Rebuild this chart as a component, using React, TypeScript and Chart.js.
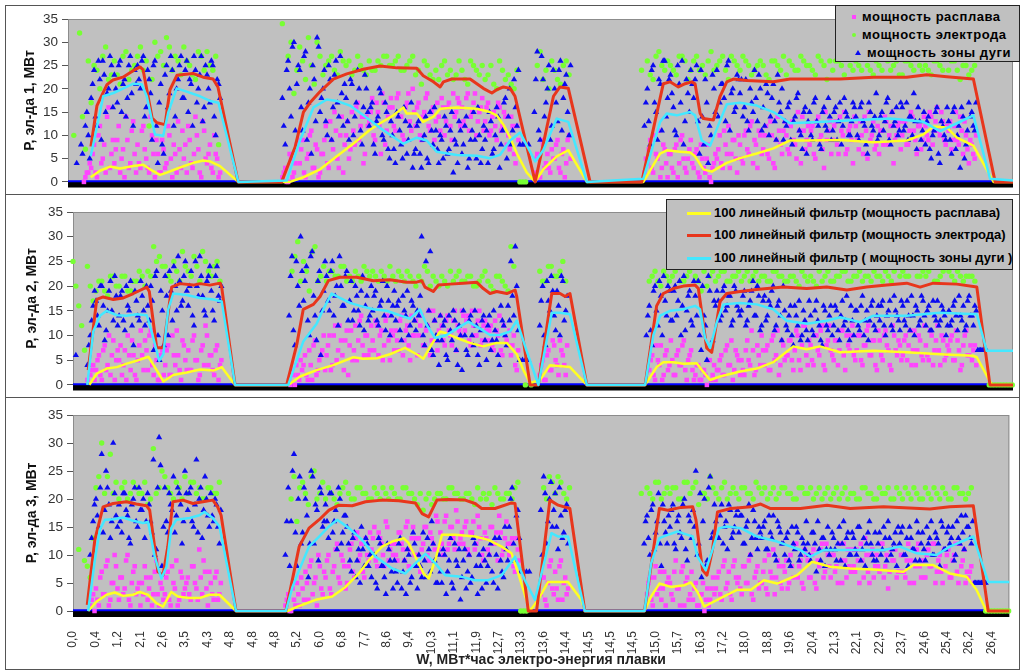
import { useEffect, useRef } from 'react';
import { Chart, registerables } from 'chart.js';

Chart.register(...registerables);

const FONT = '"Liberation Sans", Arial, Helvetica, sans-serif';
Chart.defaults.font.family = FONT;

const _ = null;
type Pair = [number, number];
type Vals = (number | null)[];

// x runs in sample units; one tick label every TICK_STEP
const X_MAX = 40.78;
const TICK_STEP = 0.9757;
const STEP_FINE = 0.125; // pink and blue samples
const STEP_COARSE = 0.25; // green samples

const xLabels = [
  '0,0', '0,4', '1,2', '2,1', '2,6', '3,5', '4,3', '4,8', '4,8', '4,8', '5,2', '6,0', '6,8', '7,7',
  '8,6', '9,4', '10,3', '11,1', '11,9', '12,7', '13,3', '13,6', '14,4', '14,5', '14,5', '14,5', '15,0',
  '15,7', '16,3', '17,2', '18,0', '18,8', '19,6', '20,4', '21,3', '22,1', '22,9', '23,7', '24,6',
  '25,4', '26,2', '26,4',
];

// ---------- electrode 1 ----------
const electrode1: Pair[] = [
  [0.99, 7.6], [1.25, 16.4], [1.68, 20.9], [1.94, 21.9], [2.37, 22.5], [2.81, 23.9], [3.11, 24.7], [3.24, 24.1],
  [3.63, 13.7], [3.84, 12.7], [4.19, 12.3], [4.4, 19.8], [4.7, 22.9], [5.39, 23.3], [5.83, 22.5], [6.26, 22.1],
  [6.47, 20.4], [7.34, 0], [9.22, 0], [9.8, 7.5], [10.16, 15.0], [10.44, 17.0], [10.88, 19.4], [11.45, 22.1],
  [12.03, 23.2], [12.74, 24.2], [13.47, 24.9], [14.19, 24.5], [15.05, 24.4], [15.33, 22.8], [15.77, 21.5],
  [16.06, 20.4], [16.2, 21.5], [16.56, 22.1], [17.35, 22.1], [17.92, 20.1], [18.29, 19.1], [18.5, 19.8],
  [18.79, 20.4], [19.08, 20.1], [19.29, 18.4], [20.16, 0], [20.95, 18.4], [21.23, 20.4], [21.59, 20.1],
  [22.53, 0], [24.76, 0], [25.69, 21.1], [25.98, 21.5], [26.34, 20.4], [26.63, 21.1], [26.92, 21.5],
  [27.06, 21.1], [27.28, 14.7], [27.42, 13.6], [27.85, 13.3], [28.14, 18.4], [28.43, 21.5], [28.71, 22.1],
  [29.29, 21.8], [30.44, 21.5], [31.16, 22.1], [33.32, 22.1], [34.76, 22.5], [36.2, 22.5], [37.06, 23.0],
  [37.92, 22.6], [39.07, 22.1], [40.01, 0], [40.78, 0],
];
const arc1: Pair[] = [
  [0.98, 5.5], [1.24, 11.6], [1.52, 18.4], [1.96, 19.1], [2.39, 20.1], [2.82, 21.1], [3.18, 21.0], [3.4, 18.4],
  [3.75, 10.2], [4.11, 9.9], [4.33, 15.0], [4.69, 20.1], [5.12, 19.4], [5.7, 18.4], [6.13, 17.4], [6.49, 17.0],
  [7.35, 0], [9.44, 0.3], [10.01, 8.9], [10.59, 16.0], [11.17, 17.7], [11.6, 17.4], [12.17, 16.4], [12.75, 14.3],
  [13.47, 11.6], [14.47, 8.2], [15.05, 9.5], [15.48, 8.9], [15.91, 6.5], [16.78, 5.8], [17.64, 5.6], [18.21, 5.1],
  [18.64, 5.8], [19.08, 8.9], [19.51, 10.6], [20.16, 4.4], [20.51, 6.8], [21.09, 13.6], [21.59, 12.9], [22.39, 0],
  [24.83, 0.7], [25.55, 12.9], [25.84, 14.7], [26.27, 14.3], [26.85, 15.0], [27.06, 14.3], [27.35, 8.9],
  [27.71, 7.8], [28.07, 12.3], [28.43, 16.7], [29.0, 17.0], [29.72, 16.4], [30.44, 15.0], [31.16, 12.6],
  [32.6, 12.9], [34.04, 13.3], [35.48, 13.6], [36.91, 12.9], [37.63, 10.9], [38.36, 12.6], [39.07, 14.3],
  [39.79, 0.7], [40.78, 0.3],
];
const melt1: Pair[] = [
  [0.98, 1.0], [1.38, 2.4], [1.81, 3.3], [2.24, 2.9], [2.82, 3.4], [3.25, 3.7], [3.54, 2.7], [3.97, 1.5],
  [4.26, 2.0], [4.83, 3.1], [5.41, 4.1], [5.84, 4.6], [6.13, 4.4], [6.56, 3.4], [7.35, 0], [9.58, 0],
  [10.16, 1.0], [10.88, 2.7], [11.6, 5.5], [12.31, 8.2], [13.03, 11.2], [13.47, 12.6], [14.04, 14.3],
  [14.47, 16.0], [14.61, 14.7], [15.05, 14.7], [15.33, 12.9], [15.77, 14.0], [16.06, 15.7], [16.78, 16.0],
  [17.64, 15.7], [18.21, 15.0], [18.5, 14.3], [18.79, 12.3], [19.08, 9.5], [19.37, 6.1], [19.8, 2.0],
  [20.16, 0], [20.51, 2.7], [21.09, 5.5], [21.59, 6.8], [22.39, 0], [24.83, 0], [25.55, 6.1], [25.84, 6.8],
  [26.41, 6.5], [26.85, 6.3], [27.06, 5.5], [27.42, 2.7], [27.78, 2.2], [28.43, 4.1], [29.0, 5.1],
  [29.72, 6.1], [30.44, 7.2], [31.16, 8.9], [31.88, 8.9], [33.32, 9.0], [34.76, 8.5], [36.2, 8.9],
  [36.91, 10.2], [37.35, 11.9], [37.92, 11.7], [38.36, 9.5], [39.07, 7.8], [39.94, 0], [40.78, 0],
];
const arcPts1: Vals = [
  _, _, _, 4, _, 6, 12, 10, 18, 24, 12, 22, 26, 15, 20, 25, 23, 17, 26, 21, 14, 25, 19, 24,
  25, 20, 27, 16, 22, 9, 26, 4, 21, 6, 25, 19, 24, 14, 22, 27, 18, 26, 22, 12, 24, 20, 27, 16,
  23, 17, 25, 10, 21, _, _, _, _, _, _, _, _, _, _, _, _, _, _, _, _, _, _, _,
  _, _, 18, 8, 26, 14, 30, 21, 24, 11, 28, 17, 6, 22, 31, 15, 20, 13, 25, 9, 23, 17, 27, 12,
  18, 9, 21, 14, 24, 11, 16, 20, 12, 17, 6, 14, 19, 9, 15, 5, 10, 4, 14, 8, 16, 6, 12, 3,
  7, 13, 3, 10, 5, 15, 8, 11, 4, 9, 14, 6, 11, 2, 8, 13, 6, 12, 3, 9, 15, 5, 10, 7,
  9, 4, 13, 7, 16, 3, 11, 18, 14, 8, 22, 12, 8, 8, 8, 8, _, 15, 28, 9, 22, 17, 25, 12,
  20, 13, 26, 18, 23, 10, _, _, _, _, _, _, _, _, _, _, _, _, _, _, _, _, _, _,
  _, _, _, _, _, _, _, 12, 20, 8, 25, 15, 22, 11, 26, 18, 23, 16, 10, 21, 26, 13, 19, 24,
  18, 25, 6, 14, 22, 4, 10, 20, 24, 17, 21, 13, 26, 19, 15, 23, 19, 14, 22, 11, 17, 24, 13, 20,
  16, 21, 10, 18, 13, 23, 15, 9, 12, 17, 8, 14, 19, 10, 15, 6, 15, 9, 18, 12, 7, 16, 11, 14,
  11, 16, 13, 8, 18, 14, 10, 17, 14, 9, 17, 12, 6, 15, 11, 19, 10, 15, 13, 18, 8, 12, 16, 11,
  16, 12, 9, 14, 19, 7, 13, 11, 8, 14, 5, 11, 16, 4, 12, 9, 13, 6, 16, 10, 3, 14, 8, 17,
  15, 11, _, _, _, _, _, _, _, _, _, _, _, _, _, _,
];
const arcPts1b: Vals = [
  _, _, _, _, 8, _, 15, 5,
  21, 14, 26, 9, 23, 19, 27, 16,
  20, 25, 15, 22, 18, 27, 12, 21,
  22, 26, 14, 24, 19, 25, 12, 17,
  8, 23, 16, 27, 12, 20, 25, 18,
  24, 15, 21, 27, 17, 23, 13, 25,
  20, 26, 14, 22, 18, _, _, _,
  _, _, _, _, _, _, _, _,
  _, _, _, _, _, _, _, _,
  _, _, 12, 24, 20, 29, 11, 25,
  16, 27, 9, 20, 25, 13, 29, 18,
  24, 10, 22, 16, 26, 14, 19, 21,
  13, 22, 10, 17, 20, 8, 23, 15,
  16, 8, 13, 20, 10, 17, 7, 13,
  7, 15, 11, 5, 13, 9, 17, 6,
  12, 6, 9, 14, 4, 11, 16, 7,
  10, 5, 12, 7, 15, 9, 4, 11,
  8, 14, 5, 11, 9, 16, 4, 12,
  11, 15, 6, 10, 14, 8, 17, 5,
  20, 11, 16, 24, _, _, _, _,
  _, 22, 11, 27, 14, 20, 9, 24,
  17, 24, 11, 21, 15, 25, _, _,
  _, _, _, _, _, _, _, _,
  _, _, _, _, _, _, _, _,
  _, _, _, _, _, _, _, 17,
  13, 24, 17, 9, 21, 26, 14, 22,
  19, 11, 25, 17, 8, 22, 15, 21,
  22, 13, 24, 8, 17, 12, 23, 15,
  14, 21, 18, 25, 11, 20, 16, 22,
  22, 16, 13, 20, 15, 18, 23, 11,
  12, 19, 14, 21, 9, 17, 20, 13,
  16, 9, 13, 18, 11, 7, 16, 13,
  10, 17, 13, 8, 15, 12, 18, 9,
  15, 9, 17, 12, 15, 10, 13, 16,
  10, 16, 13, 8, 17, 12, 14, 9,
  14, 11, 17, 9, 15, 13, 10, 17,
  11, 17, 14, 10, 13, 16, 9, 15,
  13, 7, 10, 15, 6, 13, 10, 16,
  9, 15, 7, 12, 16, 5, 11, 14,
  12, 17, _, _, _, _, _, _,
];
const meltPts1: Vals = [
  _, _, _, _, _, _, 1, 2, 3, 8, 1, 12, 5, 2, 16, 6, 4, 9, 2, 7, 14, 3, 11, 6,
  8, 3, 12, 5, 2, 10, 1, 6, 2, 7, 4, 10, 1, 6, 13, 3, 5, 2, 9, 3, 14, 7, 1, 11,
  4, 8, 2, 6, 1, _, _, _, _, _, _, _, _, _, _, _, _, _, _, _, _, _, _, _,
  _, _, 1, 3, 0, 5, 2, 8, 4, 9, 1, 6, 11, 3, 7, 2, 6, 12, 3, 9, 15, 5, 10, 2,
  10, 5, 15, 8, 17, 12, 4, 14, 13, 18, 9, 15, 6, 17, 11, 16, 16, 11, 19, 14, 9, 17, 13, 20,
  12, 17, 9, 15, 19, 11, 16, 13, 14, 18, 10, 16, 12, 19, 15, 17, 16, 12, 19, 14, 17, 10, 15, 18,
  13, 17, 11, 15, 9, 16, 12, 14, 10, 14, 6, 12, _, _, _, _, _, 2, 6, 1, 8, 4, 3, 7,
  5, 9, 2, 7, 4, 10, _, _, _, _, _, _, _, _, _, _, _, _, _, _, _, _, _, _,
  _, _, _, _, _, _, _, 2, 4, 9, 2, 6, 11, 3, 7, 1, 6, 2, 8, 4, 10, 3, 5, 9,
  3, 7, 1, 5, 2, 8, 0, 4, 5, 10, 3, 8, 12, 6, 9, 2, 8, 4, 11, 6, 13, 9, 3, 10,
  7, 12, 5, 10, 3, 14, 8, 11, 10, 6, 13, 8, 15, 4, 11, 9, 8, 12, 5, 14, 10, 3, 9, 13,
  9, 13, 6, 11, 15, 7, 12, 4, 12, 7, 10, 14, 5, 9, 13, 8, 6, 11, 14, 8, 12, 4, 10, 13,
  10, 13, 8, 15, 11, 6, 12, 9, 12, 9, 14, 11, 16, 10, 13, 8, 11, 7, 12, 9, 14, 6, 10, 4,
  8, 5, _, _, _, _, _, _, _, _, _, _, _, _, _, _,
];
const meltPts1b: Vals = [
  _, _, _, _, _, 0, 2, 4,
  6, 2, 10, 4, 8, 14, 3, 9,
  7, 12, 5, 1, 9, 4, 13, 2,
  4, 11, 7, 3, 14, 6, 9, 2,
  9, 3, 12, 5, 8, 2, 7, 11,
  8, 12, 4, 6, 10, 2, 13, 5,
  6, 3, 10, 5, 2, _, _, _,
  _, _, _, _, _, _, _, _,
  _, _, _, _, _, _, _, _,
  _, _, 2, 0, 6, 1, 4, 9,
  7, 2, 5, 10, 3, 8, 1, 6,
  9, 4, 13, 7, 11, 3, 14, 8,
  13, 7, 11, 16, 9, 14, 6, 12,
  15, 10, 17, 12, 19, 8, 14, 18,
  12, 18, 14, 10, 16, 19, 11, 15,
  16, 10, 14, 18, 12, 15, 9, 17,
  11, 16, 13, 17, 9, 14, 18, 12,
  13, 18, 11, 15, 19, 13, 16, 11,
  16, 10, 14, 12, 17, 11, 15, 8,
  7, 12, 4, 9, _, _, _, _,
  _, 5, 1, 9, 3, 6, 2, 5,
  8, 3, 6, 1, 9, 5, _, _,
  _, _, _, _, _, _, _, _,
  _, _, _, _, _, _, _, _,
  _, _, _, _, _, _, _, 5,
  7, 3, 10, 5, 1, 8, 4, 6,
  3, 7, 1, 9, 5, 2, 7, 4,
  6, 2, 8, 3, 5, 1, 3, 6,
  7, 4, 11, 6, 3, 9, 5, 10,
  5, 10, 7, 12, 4, 8, 11, 6,
  10, 6, 13, 4, 9, 11, 6, 13,
  7, 12, 9, 5, 11, 14, 7, 12,
  11, 6, 13, 9, 7, 15, 11, 6,
  12, 8, 14, 10, 6, 11, 9, 14,
  9, 13, 6, 11, 15, 10, 7, 12,
  11, 8, 13, 10, 15, 9, 12, 7,
  13, 8, 11, 14, 9, 12, 7, 14,
  10, 15, 8, 13, 11, 15, 9, 12,
  13, 9, 15, 8, 11, 13, 7, 9,
  6, 10, _, _, _, _, _, _,
];
const electrodePts1: Vals = [
  _, 10, 32, 7, 17, 24, 27, 22, 26, 21, 28, 24, 27, 24, 12, 30, 28, 31, 24, 26, 29, 25, 22, 27,
  28, 24, 8, _, _, _, _, _, _, _, _, _, _, 34, 27, 19, 29, 22, 25, 30, 23, 26, 24, 28,
  25, 23, 27, 24, 26, 24, 25, 27, 25, 27, 24, 26, 23, 21, 25, 22, 22, 26, 24, 23, 24, 21, 25, 23,
  22, 25, 20, 24, 23, 20, 0, 0, _, 25, 22, 20, 24, 21, 26, _, _, _, _, _, _, _, _, _,
  _, _, _, 24, 26, 22, 28, 24, 25, 23, 27, 22, 26, 24, 23, 28, 25, 27, 22, 26, 24, 26, 23, 25,
  25, 22, 26, 24, 23, 25, 24, 26, 25, 23, 26, 22, 24, 26, 23, 25, 26, 24, 25, 23, 25, 27, 24, 26,
  23, 26, 24, 25, 25, 23, 26, 24, 24, 26, 22, 25, 24, _, _, _, _, _, _, _,
];
const electrodePts1b: Vals = [
  _, _, 14, 26, 25, 20, 29, 23, 23, 27, 22, 25, 29, 26, 22, 27, 25, 29, 27, 23,
  26, 23, 28, 24, 25, 27, _, _, _, _, _, _, _, _, _, _, _, _, 30, 24,
  26, 31, 21, 27, 25, 27, 23, 26, 26, 24, 25, 23, 24, 26, 27, 25, 26, 24, 25, 27,
  24, 26, 23, 24, 25, 23, 22, 26, 22, 26, 24, 25, 23, 21, 26, 22, 21, 24, 0, _,
  _, 28, 24, 26, 22, 25, 23, _, _, _, _, _, _, _, _, _, _, _, _, _,
  23, 27, 25, 26, 24, 27, 26, 24, 27, 25, 26, 24, 26, 24, 27, 25, 27, 25, 24, 26,
  23, 26, 25, 27, 26, 24, 27, 25, 24, 27, 25, 26, 26, 25, 27, 24, 25, 27, 24, 26,
  24, 26, 25, 23, 26, 25, 27, 24, 24, 26, 25, 27, 26, 24, 25, 23, 25, _, _, _,
  _, _, _, _,
];

// ---------- electrode 2 ----------
const electrode2: Pair[] = [
  [0.66, 3.0], [1.03, 17.3], [1.31, 17.8], [1.75, 17.3], [2.18, 17.6], [2.62, 18.5], [3.2, 19.8], [3.31, 18.9],
  [3.63, 7.5], [3.92, 7.5], [4.28, 19.8], [4.64, 20.5], [5.22, 20.2], [5.51, 20.5], [5.94, 20.2], [6.38, 20.6],
  [6.45, 19.8], [7.03, 0], [9.27, 0], [9.71, 8.2], [9.99, 15.3], [10.43, 16.3], [10.72, 17.9], [11.08, 21.1],
  [11.58, 21.8], [12.31, 21.8], [13.03, 21.1], [13.75, 21.3], [14.48, 20.8], [14.91, 20.8], [15.13, 21.1],
  [15.27, 19.8], [15.63, 18.9], [15.85, 20.2], [16.36, 20.4], [16.93, 20.6], [17.51, 20.8], [17.8, 19.5],
  [18.09, 18.5], [18.38, 18.9], [18.82, 18.5], [19.18, 19.2], [19.25, 17.9], [19.83, 0], [20.19, 0],
  [20.77, 18.5], [21.13, 18.5], [21.35, 17.9], [21.56, 18.5], [22.29, 0], [24.82, 0], [25.32, 16.0],
  [25.61, 18.5], [26.04, 19.5], [26.48, 20.0], [26.99, 20.2], [27.13, 19.5], [27.49, 7.5], [27.71, 6.6],
  [28.07, 16.9], [28.36, 18.5], [28.94, 18.9], [29.66, 19.3], [30.82, 19.8], [31.83, 19.5], [32.7, 19.8],
  [33.57, 19.2], [34.43, 19.8], [35.3, 20.2], [36.17, 20.6], [36.75, 19.8], [37.32, 20.6], [38.34, 20.4],
  [39.21, 19.8], [39.78, 0], [40.78, 0],
];
const arc2: Pair[] = [
  [0.62, 0], [0.88, 10.8], [1.17, 14.0], [1.46, 15.0], [1.9, 14.1], [2.33, 14.0], [2.76, 14.3], [3.2, 14.1],
  [3.41, 10.8], [3.74, 4.9], [3.92, 6.2], [4.13, 15.3], [4.35, 18.5], [4.93, 18.2], [5.51, 17.6], [6.09, 17.3],
  [6.45, 16.9], [7.03, 0], [9.34, 0], [9.99, 8.8], [10.57, 12.4], [10.86, 15.3], [11.22, 18.5], [11.58, 17.6],
  [12.02, 16.6], [12.45, 16.0], [13.03, 15.3], [13.61, 15.0], [14.04, 14.3], [14.62, 13.4], [15.05, 15.3],
  [15.35, 12.1], [15.71, 9.5], [16.21, 10.1], [16.65, 11.4], [17.15, 12.8], [17.66, 11.4], [18.09, 10.1],
  [18.52, 10.1], [18.96, 10.8], [19.25, 13.0], [19.68, 6.9], [20.19, 0], [20.77, 14.6], [21.13, 14.6],
  [21.56, 14.3], [22.29, 0], [24.82, 0], [25.18, 10.1], [25.47, 14.0], [25.9, 15.0], [26.48, 15.3],
  [26.99, 16.0], [27.2, 15.3], [27.42, 9.5], [27.64, 7.5], [27.93, 12.7], [28.22, 16.3], [28.94, 16.6],
  [29.66, 16.3], [30.38, 15.3], [30.96, 13.0], [31.83, 12.4], [32.7, 13.0], [33.28, 13.7], [34.14, 12.7],
  [34.72, 14.0], [36.17, 14.0], [37.61, 14.6], [39.21, 14.3], [39.64, 6.9], [40.78, 6.9],
];
const melt2: Pair[] = [
  [0.71, 0], [1.03, 2.3], [1.46, 3.3], [1.9, 3.6], [2.33, 4.3], [2.76, 4.9], [3.27, 5.7], [3.63, 3.0],
  [3.92, 0.7], [4.35, 2.0], [4.93, 2.5], [5.51, 3.1], [6.09, 2.9], [6.45, 3.6], [7.03, 0], [9.34, 0],
  [9.85, 1.7], [10.57, 3.0], [11.29, 4.0], [12.16, 5.6], [12.59, 5.3], [13.18, 5.4], [13.75, 6.2],
  [14.4, 7.5], [14.91, 6.2], [15.2, 5.3], [15.56, 8.2], [15.92, 10.8], [16.21, 10.4], [16.65, 9.5],
  [17.22, 8.5], [17.8, 7.8], [18.38, 8.5], [18.82, 8.5], [19.25, 6.2], [19.54, 3.0], [19.83, 0.4],
  [20.26, 1.0], [20.69, 4.0], [21.56, 3.6], [22.29, 0], [24.82, 0], [25.32, 3.6], [25.61, 4.6],
  [26.04, 4.6], [26.48, 4.3], [27.06, 4.4], [27.28, 3.0], [27.64, 1.0], [28.07, 1.7], [28.94, 2.7],
  [29.66, 3.3], [30.38, 4.6], [30.82, 6.2], [31.25, 7.8], [31.83, 7.2], [32.41, 7.8], [33.28, 6.6],
  [34.72, 6.9], [36.17, 6.6], [37.61, 6.2], [39.05, 5.9], [39.21, 5.6], [39.86, 0], [40.78, 0],
];
const arcPts2: Vals = [
  _, 6, _, _, _, 4, 10, 16, 17, 12, 20, 9, 15, 21, 13, 18, 14, 19, 11, 16, 21, 8, 17, 13,
  18, 12, 16, 20, 7, 23, 5, 15, 22, 10, 19, 24, 15, 21, 17, 25, 16, 23, 12, 20, 26, 18, 14, 22,
  19, 13, 24, 17, _, _, _, _, _, _, _, _, _, _, _, _, _, _, _, _, _, _, _, _,
  _, _, _, 14, 26, 8, 20, 30, 17, 24, 10, 27, 14, 21, 6, 19, 22, 15, 25, 18, 12, 20, 16, 23,
  17, 13, 20, 15, 19, 11, 18, 14, 15, 19, 12, 17, 14, 20, 10, 16, 13, 17, 9, 15, 19, 12, 16, 11,
  14, 30, 8, 12, 27, 6, 10, 4, 9, 13, 5, 11, 15, 7, 12, 3, 10, 6, 14, 8, 12, 4, 13, 9,
  12, 7, 15, 9, 4, 13, 10, 16, 25, 14, 20, 5, 5, 5, 5, _, _, _, 12, 20, 8, 17, 22, 14,
  19, 10, 21, 15, _, _, _, _, _, _, _, _, _, _, _, _, _, _, _, _, _, _, _, _,
  _, _, _, _, _, _, _, 10, 16, 8, 20, 12, 18, 22, 14, 19, 13, 20, 17, 10, 22, 15, 19, 12,
  18, 21, 7, 14, 5, 19, 9, 16, 17, 14, 20, 16, 18, 13, 19, 15, 15, 19, 13, 17, 21, 14, 18, 12,
  18, 14, 16, 20, 12, 17, 9, 15, 11, 16, 8, 14, 17, 10, 13, 9, 14, 10, 17, 12, 8, 15, 11, 16,
  12, 15, 9, 17, 13, 11, 16, 10, 15, 11, 18, 13, 9, 16, 12, 14, 13, 17, 10, 15, 12, 18, 14, 11,
  16, 12, 14, 18, 10, 15, 13, 17, 12, 16, 11, 14, 17, 13, 15, 10, 15, 13, 17, 11, 14, 16, 12, 18,
  14, 16, 7, 7, 7, 7, _, _, _, _, _, _, _, _, _, _,
];
const arcPts2b: Vals = [
  _, _, _, _, _, 8, 13, 19,
  14, 20, 16, 11, 19, 15, 22, 12,
  18, 13, 20, 15, 12, 19, 14, 21,
  15, 20, 13, 17, 22, 10, 19, 8,
  18, 23, 13, 20, 26, 16, 22, 19,
  20, 14, 25, 18, 22, 15, 21, 24,
  15, 22, 18, 20, _, _, _, _,
  _, _, _, _, _, _, _, _,
  _, _, _, _, _, _, _, _,
  _, _, _, 22, 11, 25, 16, 23,
  21, 13, 26, 18, 9, 23, 15, 25,
  17, 23, 14, 20, 26, 16, 22, 13,
  21, 15, 18, 12, 22, 16, 13, 20,
  18, 13, 16, 21, 11, 17, 14, 19,
  16, 11, 18, 14, 10, 17, 13, 15,
  18, 10, 25, 15, 7, 13, 9, 14,
  12, 6, 14, 9, 13, 4, 10, 15,
  7, 13, 10, 15, 6, 11, 14, 5,
  14, 9, 11, 6, 16, 12, 8, 13,
  18, 28, 11, _, _, _, _, _,
  _, _, 17, 10, 21, 15, 19, 11,
  16, 22, 13, 18, _, _, _, _,
  _, _, _, _, _, _, _, _,
  _, _, _, _, _, _, _, _,
  _, _, _, _, _, _, _, 14,
  11, 19, 15, 21, 10, 17, 20, 13,
  19, 14, 21, 16, 11, 18, 13, 21,
  14, 10, 20, 12, 22, 8, 17, 19,
  13, 19, 15, 18, 12, 20, 16, 14,
  18, 12, 16, 19, 14, 20, 11, 17,
  13, 17, 19, 11, 16, 14, 20, 12,
  14, 10, 16, 12, 9, 15, 11, 17,
  11, 15, 13, 9, 16, 12, 14, 10,
  16, 11, 14, 12, 18, 9, 13, 15,
  12, 16, 10, 15, 13, 17, 11, 16,
  16, 12, 14, 17, 11, 15, 13, 17,
  13, 17, 11, 14, 16, 12, 18, 14,
  15, 11, 17, 13, 12, 16, 14, 12,
  12, 16, 14, 18, 13, 11, 17, 14,
  12, 15, 7, 7, _, _, _, _,
];
const meltPts2: Vals = [
  _, _, _, _, _, 1, 2, 4, 3, 6, 1, 8, 4, 2, 9, 5, 5, 2, 7, 10, 3, 6, 1, 8,
  6, 9, 3, 11, 2, 5, 1, 7, 4, 8, 2, 6, 11, 3, 9, 5, 7, 3, 10, 5, 2, 8, 12, 4,
  6, 2, 8, 4, _, _, _, _, _, _, _, _, _, _, _, _, _, _, _, _, _, _, _, _,
  _, _, _, 1, 3, 0, 2, 5, 4, 2, 7, 1, 9, 3, 6, 10, 6, 10, 4, 12, 7, 9, 3, 11,
  8, 5, 12, 9, 14, 6, 10, 7, 9, 13, 6, 11, 8, 14, 5, 10, 11, 7, 14, 9, 12, 5, 10, 13,
  10, 14, 8, 12, 6, 15, 9, 11, 12, 8, 14, 10, 13, 7, 11, 15, 11, 14, 8, 12, 10, 15, 9, 13,
  9, 12, 7, 11, 14, 6, 10, 8, 6, 10, 3, _, _, _, _, _, _, _, 2, 5, 1, 7, 3, 8,
  4, 9, 6, 2, _, _, _, _, _, _, _, _, _, _, _, _, _, _, _, _, _, _, _, _,
  _, _, _, _, _, _, _, _, 3, 6, 1, 5, 8, 2, 7, 4, 5, 2, 7, 4, 9, 1, 6, 3,
  2, 4, 1, 3, 0, 5, 2, 1, 3, 6, 2, 8, 4, 1, 7, 5, 5, 2, 9, 4, 7, 3, 6, 10,
  4, 8, 3, 10, 6, 2, 9, 5, 6, 9, 3, 11, 5, 8, 12, 4, 8, 4, 10, 6, 12, 3, 9, 7,
  5, 9, 7, 11, 3, 8, 10, 6, 7, 10, 4, 8, 12, 6, 9, 3, 9, 5, 11, 7, 3, 10, 6, 8,
  6, 10, 8, 4, 11, 7, 9, 5, 8, 5, 10, 7, 12, 4, 9, 6, 7, 10, 5, 9, 3, 8, 11, 6,
  5, 8, _, _, _, _, _, _, _, _, _, _, _, _, _, _,
];
const meltPts2b: Vals = [
  _, _, _, _, _, _, 3, 1,
  5, 2, 7, 3, 10, 6, 1, 7,
  8, 4, 1, 6, 9, 2, 5, 11,
  3, 7, 10, 4, 8, 1, 6, 2,
  7, 2, 10, 4, 6, 1, 8, 3,
  3, 9, 5, 1, 7, 4, 10, 6,
  3, 7, 1, 5, _, _, _, _,
  _, _, _, _, _, _, _, _,
  _, _, _, _, _, _, _, _,
  _, _, _, 0, 2, 4, 1, 3,
  6, 1, 4, 8, 2, 5, 7, 3,
  8, 3, 10, 5, 12, 6, 9, 2,
  11, 7, 5, 13, 8, 10, 6, 12,
  7, 12, 10, 5, 13, 9, 11, 7,
  9, 13, 6, 11, 8, 14, 10, 6,
  12, 8, 11, 15, 9, 13, 7, 14,
  9, 13, 11, 8, 15, 12, 10, 14,
  13, 9, 15, 10, 13, 8, 12, 11,
  11, 8, 13, 10, 7, 12, 9, 11,
  8, 4, 7, _, _, _, _, _,
  _, _, 4, 1, 6, 3, 9, 5,
  2, 7, 4, 8, _, _, _, _,
  _, _, _, _, _, _, _, _,
  _, _, _, _, _, _, _, _,
  _, _, _, _, _, _, _, _,
  5, 2, 8, 4, 1, 6, 3, 9,
  2, 6, 4, 8, 3, 5, 7, 1,
  4, 1, 3, 2, 5, 1, 4, 3,
  5, 2, 7, 4, 9, 3, 6, 2,
  3, 7, 5, 11, 2, 8, 4, 7,
  7, 3, 9, 5, 11, 4, 8, 6,
  9, 5, 7, 10, 3, 12, 6, 9,
  5, 10, 7, 11, 4, 8, 12, 6,
  9, 4, 11, 6, 10, 7, 12, 5,
  10, 5, 8, 11, 6, 9, 4, 11,
  6, 10, 8, 4, 12, 7, 9, 5,
  9, 5, 11, 7, 4, 10, 6, 12,
  6, 11, 4, 9, 7, 10, 5, 8,
  9, 5, 11, 7, 4, 10, 6, 8,
  7, 4, _, _, _, _, _, _,
];
const electrodePts2: Vals = [
  25, 16, 7, 20, 19, 21, 18, 22, 20, 22, 19, 21, 22, 23, 28, 26, 24, 21, 23, 27, 23, 26, 21, 25,
  22, 25, _, _, _, _, _, _, _, _, _, _, _, _, 23, 29, 25, 19, 28, 22, 21, 23, 22, 24,
  22, 23, 21, 23, 23, 21, 22, 24, 21, 22, 23, 21, 22, 24, 20, 21, 22, 20, 21, 23, 21, 22, 20, 22,
  21, 19, 22, 20, 28, _, _, _, _, 23, 21, 24, 22, 25, _, _, _, _, _, _, _, _, _, _,
  _, _, _, _, 21, 23, 20, 22, 22, 24, 21, 23, 22, 19, 20, 23, 22, 23, 21, 22, 21, 23, 22, 21,
  22, 21, 23, 22, 21, 22, 20, 22, 22, 20, 21, 23, 21, 22, 23, 21, 22, 21, 22, 23, 22, 23, 21, 24,
  23, 22, 24, 22, 22, 24, 21, 23, 23, 21, 22, 22, 22, _, _, 0, 0, 0, 0, 0,
];
const electrodePts2b: Vals = [
  20, 12, 24, 17, 21, 19, 22, 20, 22, 19, 21, 23, 20, 22, 25, 24, 22, 25, 21, 24,
  22, 24, 27, 23, 24, 21, _, _, _, _, _, _, _, _, _, _, _, _, 26, 21,
  23, 27, 21, 24, 23, 22, 24, 21, 21, 22, 24, 22, 22, 23, 21, 22, 23, 21, 22, 20,
  21, 23, 22, 20, 21, 23, 22, 21, 22, 20, 21, 23, 20, 22, 21, 19, 24, _, 0, 0,
  _, 21, 24, 22, 23, 21, _, _, _, _, _, _, _, _, _, _, _, _, _, _,
  22, 21, 23, 21, 23, 21, 22, 24, 21, 23, 22, 21, 23, 21, 22, 23, 22, 21, 23, 22,
  21, 23, 22, 21, 22, 21, 23, 21, 21, 23, 22, 21, 22, 23, 21, 22, 23, 22, 21, 22,
  21, 22, 23, 22, 22, 24, 22, 23, 23, 21, 22, 24, 22, 23, 21, 22, 21, _, _, 0,
  0, 0, 0, _,
];

// ---------- electrode 3 ----------
const electrode3: Pair[] = [
  [0.62, 1.1], [0.95, 12.7], [1.31, 18.6], [1.75, 19.2], [2.33, 19.5], [2.76, 19.1], [3.2, 18.8], [3.34, 18.0],
  [3.7, 7.0], [3.92, 6.4], [4.13, 11.5], [4.35, 19.5], [4.79, 19.8], [5.22, 19.2], [5.66, 19.5], [6.09, 19.8],
  [6.3, 18.6], [6.45, 17.1], [7.1, 0], [9.27, 0], [9.49, 4.3], [9.85, 11.5], [10.28, 14.8], [10.72, 16.3],
  [11.15, 18.0], [11.58, 18.9], [12.16, 18.8], [12.74, 19.5], [13.46, 19.8], [14.19, 19.7], [14.91, 19.3],
  [15.2, 17.4], [15.49, 16.8], [15.85, 19.8], [16.36, 19.9], [17.08, 19.8], [17.51, 19.2], [17.8, 18.3],
  [18.38, 18.3], [19.1, 19.3], [19.25, 19.2], [19.83, 0], [20.19, 0], [20.77, 19.8], [21.13, 18.9],
  [21.64, 18.3], [22.29, 0], [24.89, 0], [25.54, 18.3], [25.9, 18.0], [26.48, 18.5], [26.99, 18.6],
  [27.13, 16.3], [27.42, 7.3], [27.61, 6.4], [27.85, 10.9], [28.07, 17.7], [28.65, 18.3], [29.52, 18.6],
  [29.95, 19.1], [30.38, 18.3], [31.68, 18.3], [32.84, 18.9], [33.85, 18.3], [35.3, 18.6], [37.32, 18.2],
  [38.19, 18.6], [39.21, 18.8], [39.86, 0], [40.78, 0],
];
const arc3: Pair[] = [
  [0.66, 0], [0.95, 9.1], [1.17, 14.5], [1.39, 16.3], [1.75, 16.4], [2.18, 16.7], [2.62, 16.1], [3.05, 15.7],
  [3.27, 15.9], [3.56, 9.7], [3.85, 5.8], [4.07, 7.9], [4.28, 14.8], [4.5, 16.3], [5.08, 16.6], [5.51, 17.1],
  [5.73, 17.7], [6.09, 16.6], [6.38, 15.1], [7.1, 0], [9.27, 0], [9.56, 4.3], [9.85, 7.3], [10.28, 11.5],
  [10.72, 13.3], [11.15, 15.1], [11.51, 16.3], [12.02, 14.8], [12.59, 12.7], [13.18, 9.7], [13.9, 7.6],
  [14.48, 6.7], [14.91, 8.5], [15.35, 10.2], [15.78, 8.5], [16.21, 6.4], [16.93, 6.1], [17.51, 5.5],
  [18.09, 5.5], [18.67, 6.4], [19.25, 9.7], [19.68, 5.5], [20.12, 2.0], [20.84, 13.9], [21.13, 13.3],
  [21.56, 13.3], [22.29, 0], [24.89, 0], [25.18, 8.5], [25.54, 13.0], [25.9, 13.6], [26.33, 14.2],
  [26.77, 13.6], [26.99, 13.3], [27.2, 9.7], [27.56, 7.3], [27.85, 10.9], [28.14, 14.8], [28.5, 15.1],
  [29.08, 14.8], [29.8, 13.3], [30.67, 12.4], [31.68, 10.9], [32.12, 9.7], [32.7, 10.9], [33.85, 10.9],
  [35.3, 10.9], [36.02, 11.5], [36.75, 10.3], [37.61, 10.0], [38.19, 11.5], [39.21, 13.3], [39.86, 5.2],
  [40.78, 5.2],
];
const melt3: Pair[] = [
  [0.66, 0], [1.03, 1.7], [1.46, 2.9], [1.82, 3.3], [2.18, 2.7], [2.62, 2.9], [2.91, 3.4], [3.27, 2.9],
  [3.63, 1.4], [3.92, 0.8], [4.28, 3.4], [4.57, 2.6], [5.08, 2.3], [5.51, 2.3], [5.94, 2.9], [6.38, 2.9],
  [7.1, 0], [9.34, 0], [9.85, 0.9], [10.57, 2.0], [11.29, 2.6], [11.87, 4.3], [12.45, 6.7], [12.89, 9.1],
  [13.46, 11.5], [13.9, 12.4], [14.4, 13.0], [14.62, 12.1], [14.98, 9.1], [15.27, 6.7], [15.49, 5.8],
  [15.78, 9.1], [16.07, 13.6], [16.65, 13.6], [17.51, 13.3], [18.09, 12.7], [18.67, 11.5], [19.1, 10.3],
  [19.39, 6.7], [19.75, 2.0], [19.9, 0], [20.26, 2.0], [20.69, 5.2], [21.56, 5.2], [22.14, 2.0], [22.29, 0],
  [24.89, 0], [25.18, 2.6], [25.54, 4.9], [26.04, 4.3], [26.62, 4.6], [26.91, 5.1], [27.2, 3.4],
  [27.49, 0.8], [27.78, 1.4], [28.36, 2.6], [28.94, 3.8], [29.52, 3.8], [30.09, 5.5], [30.67, 4.9],
  [31.54, 6.4], [32.19, 8.8], [32.98, 7.9], [33.85, 7.6], [34.87, 7.4], [36.17, 7.0], [36.6, 8.2],
  [37.47, 8.2], [38.19, 6.7], [38.92, 6.1], [39.35, 3.8], [39.78, 0], [40.78, 0],
];
const arcPts3: Vals = [
  _, _, _, _, _, _, 10, 16, 20, 15, 28, 18, 22, 13, 30, 17, 19, 14, 21, 17, 12, 20, 16, 22,
  18, 13, 21, 16, 27, 11, 31, 8, 22, 14, 19, 24, 17, 21, 12, 25, 18, 22, 15, 27, 20, 13, 24, 17,
  21, 16, 19, 12, _, _, _, _, _, _, _, _, _, _, _, _, _, _, _, _, _, _, _, _,
  _, _, 10, 22, 16, 28, 8, 24, 14, 20, 6, 25, 12, 18, 22, 15, 19, 13, 21, 16, 11, 20, 14, 17,
  12, 7, 14, 9, 5, 11, 13, 8, 6, 10, 4, 12, 8, 3, 11, 7, 9, 5, 13, 7, 3, 10, 6, 12,
  4, 8, 14, 6, 11, 16, 9, 5, 7, 11, 3, 9, 5, 12, 8, 2, 9, 4, 10, 6, 12, 3, 8, 11,
  5, 10, 7, 13, 4, 9, 6, 11, 15, 22, 9, 18, 7, 7, 7, 7, _, _, _, 18, 24, 12, 20, 15,
  21, 11, 17, 14, 19, _, _, _, _, _, _, _, _, _, _, _, _, _, _, _, _, _, _, _,
  _, _, _, _, _, _, _, 12, 17, 10, 19, 14, 21, 8, 16, 12, 15, 19, 11, 17, 13, 20, 9, 16,
  18, 25, 12, 6, 20, 9, 24, 14, 16, 13, 19, 15, 11, 18, 14, 17, 14, 17, 12, 16, 10, 18, 13, 15,
  13, 16, 11, 14, 17, 9, 15, 12, 10, 14, 8, 12, 15, 9, 13, 11, 12, 9, 14, 7, 11, 13, 8, 15,
  11, 13, 9, 15, 12, 8, 14, 10, 13, 10, 15, 11, 8, 14, 12, 9, 9, 14, 11, 13, 16, 10, 12, 8,
  12, 15, 10, 8, 13, 11, 16, 9, 14, 9, 12, 16, 10, 13, 8, 15, 11, 15, 13, 9, 16, 12, 14, 17,
  15, 12, 5, 5, 5, 5, 5, _, _, _, _, _, _, _, _, _,
];
const arcPts3b: Vals = [
  _, _, _, _, _, _, 13, 19,
  17, 22, 14, 25, 19, 16, 21, 15,
  16, 21, 18, 13, 19, 22, 15, 18,
  20, 16, 19, 14, 10, 22, 26, 15,
  16, 21, 18, 14, 22, 19, 16, 21,
  21, 16, 19, 14, 22, 18, 20, 15,
  17, 20, 15, 18, _, _, _, _,
  _, _, _, _, _, _, _, _,
  _, _, _, _, _, _, _, _,
  _, _, 16, 8, 25, 14, 20, 12,
  22, 17, 12, 24, 19, 9, 21, 16,
  16, 21, 14, 18, 22, 12, 17, 15,
  9, 13, 6, 11, 15, 8, 12, 10,
  10, 5, 13, 8, 6, 12, 9, 4,
  7, 12, 4, 9, 11, 5, 14, 8,
  10, 6, 9, 13, 7, 12, 5, 10,
  5, 10, 7, 13, 4, 9, 11, 6,
  11, 7, 5, 13, 8, 10, 4, 9,
  8, 12, 5, 10, 13, 7, 15, 9,
  20, 12, 17, 13, _, _, _, _,
  _, _, _, 10, 21, 16, 23, 18,
  15, 22, 13, 18, 12, _, _, _,
  _, _, _, _, _, _, _, _,
  _, _, _, _, _, _, _, _,
  _, _, _, _, _, _, _, 16,
  13, 18, 11, 16, 12, 19, 14, 17,
  18, 12, 16, 14, 19, 11, 17, 13,
  15, 10, 21, 16, 8, 22, 13, 19,
  13, 17, 12, 16, 19, 13, 15, 18,
  17, 12, 15, 19, 13, 16, 11, 14,
  15, 11, 17, 13, 10, 16, 14, 12,
  13, 9, 15, 11, 14, 10, 12, 16,
  10, 14, 12, 16, 9, 13, 11, 10,
  14, 11, 12, 9, 16, 13, 10, 14,
  11, 15, 9, 13, 12, 16, 10, 14,
  12, 10, 15, 9, 13, 11, 14, 15,
  14, 10, 13, 15, 11, 9, 14, 12,
  11, 15, 13, 10, 14, 12, 16, 11,
  14, 12, 15, 10, 13, 17, 11, 15,
  13, 16, 5, 5, 5, 5, _, _,
];
const meltPts3: Vals = [
  _, _, _, _, _, _, 1, 3, 4, 1, 7, 3, 9, 2, 5, 8, 2, 6, 4, 10, 1, 7, 3, 5,
  5, 8, 2, 6, 3, 9, 1, 4, 3, 7, 1, 5, 9, 2, 6, 4, 6, 2, 8, 4, 11, 3, 7, 1,
  5, 2, 7, 3, _, _, _, _, _, _, _, _, _, _, _, _, _, _, _, _, _, _, _, _,
  _, _, 1, 3, 0, 2, 5, 1, 4, 7, 2, 9, 5, 1, 8, 3, 6, 10, 3, 8, 12, 5, 9, 4,
  8, 12, 6, 14, 10, 7, 13, 9, 11, 15, 8, 13, 10, 16, 9, 12, 12, 9, 14, 11, 15, 8, 13, 10,
  10, 7, 12, 15, 9, 13, 11, 16, 14, 10, 17, 12, 15, 11, 16, 13, 12, 16, 10, 14, 11, 17, 13, 9,
  13, 10, 15, 12, 9, 14, 11, 16, 10, 13, 7, 11, _, _, _, _, _, _, _, 3, 6, 1, 8, 4,
  7, 2, 9, 5, 3, _, _, _, _, _, _, _, _, _, _, _, _, _, _, _, _, _, _, _,
  _, _, _, _, _, _, _, _, 3, 6, 1, 8, 4, 2, 7, 5, 5, 2, 9, 4, 7, 1, 6, 3,
  2, 5, 1, 3, 0, 4, 2, 6, 4, 7, 2, 9, 5, 3, 8, 6, 6, 3, 8, 5, 10, 2, 7, 4,
  5, 9, 3, 7, 11, 6, 8, 4, 7, 4, 10, 6, 12, 8, 5, 11, 9, 6, 11, 4, 8, 12, 7, 10,
  6, 10, 8, 12, 5, 9, 11, 7, 8, 11, 5, 9, 13, 7, 10, 6, 10, 7, 12, 8, 4, 11, 9, 6,
  7, 10, 6, 12, 9, 5, 11, 8, 9, 6, 11, 8, 12, 7, 10, 5, 8, 11, 6, 10, 7, 12, 9, 5,
  6, 8, _, _, _, _, _, _, _, _, _, _, _, _, _, _,
];
const meltPts3b: Vals = [
  _, _, _, _, _, _, 2, 0,
  2, 6, 3, 8, 1, 5, 10, 4,
  6, 3, 9, 2, 5, 8, 4, 1,
  3, 6, 4, 1, 7, 3, 5, 2,
  6, 2, 8, 4, 1, 7, 3, 5,
  3, 8, 5, 2, 6, 9, 4, 7,
  3, 6, 2, 5, _, _, _, _,
  _, _, _, _, _, _, _, _,
  _, _, _, _, _, _, _, _,
  _, _, 2, 0, 4, 1, 3, 6,
  2, 5, 8, 3, 6, 10, 4, 7,
  9, 4, 7, 11, 6, 10, 8, 5,
  11, 7, 13, 9, 12, 6, 10, 14,
  13, 9, 14, 12, 8, 15, 11, 10,
  10, 14, 12, 9, 16, 11, 15, 13,
  13, 11, 15, 10, 14, 12, 17, 11,
  12, 16, 11, 15, 13, 18, 12, 14,
  15, 11, 14, 16, 12, 15, 10, 14,
  11, 15, 12, 14, 17, 10, 13, 12,
  12, 8, 13, 9, _, _, _, _,
  _, _, _, 6, 2, 5, 9, 3,
  4, 8, 2, 6, 4, _, _, _,
  _, _, _, _, _, _, _, _,
  _, _, _, _, _, _, _, _,
  _, _, _, _, _, _, _, _,
  5, 2, 6, 3, 7, 4, 1, 6,
  3, 7, 4, 1, 8, 5, 2, 7,
  4, 1, 3, 5, 2, 1, 4, 3,
  6, 3, 8, 4, 7, 2, 9, 5,
  4, 8, 5, 9, 3, 6, 8, 5,
  7, 4, 10, 6, 3, 9, 5, 8,
  9, 5, 8, 12, 6, 9, 4, 10,
  6, 10, 5, 9, 11, 6, 12, 8,
  10, 7, 5, 9, 12, 6, 8, 11,
  7, 9, 12, 6, 10, 5, 11, 8,
  8, 12, 6, 10, 7, 9, 11, 7,
  10, 7, 9, 5, 11, 8, 12, 6,
  6, 10, 8, 12, 5, 9, 7, 11,
  10, 6, 9, 12, 5, 8, 11, 7,
  7, 5, _, _, _, _, _, _,
];
const electrodePts3: Vals = [
  _, 11, 9, 6, 22, 30, 24, 21, 20, 23, 21, 22, 21, 19, 29, 22, 24, 21, 23, 20, 21, 23, 22, 20,
  22, 21, _, _, _, _, _, _, _, _, _, _, _, _, 20, 16, 23, 19, 25, 21, 20, 21, 19, 22,
  21, 20, 22, 21, 20, 21, 22, 20, 21, 20, 22, 21, 19, 18, 21, 20, 21, 20, 22, 21, 20, 21, 19, 20,
  20, 19, 21, 20, 21, 22, 0, 0, _, _, 22, 24, 21, 23, 20, _, _, _, _, _, _, _, _, _,
  _, _, _, 21, 22, 20, 23, 21, 21, 22, 20, 23, 22, 19, 21, 24, 21, 22, 20, 22, 20, 22, 21, 23,
  21, 20, 22, 21, 22, 21, 20, 22, 21, 20, 22, 21, 20, 22, 21, 20, 21, 20, 22, 21, 20, 21, 22, 20,
  21, 22, 20, 21, 20, 21, 22, 20, 21, 20, 22, 21, 21, _, _, 0, 0, 0, 0, 0,
];
const electrodePts3b: Vals = [
  _, _, 8, 13, 24, 21, 28, 23, 22, 20, 23, 21, 23, 20, 21, 25, 22, 20, 22, 24,
  23, 21, 20, 22, 21, 23, _, _, _, _, _, _, _, _, _, _, _, _, 24, 22,
  21, 24, 20, 23, 22, 20, 21, 23, 20, 22, 21, 20, 22, 20, 21, 22, 20, 22, 21, 20,
  21, 20, 19, 21, 20, 22, 21, 20, 21, 20, 22, 21, 21, 22, 20, 21, 20, 23, 0, _,
  _, _, 20, 23, 24, 21, 22, _, _, _, _, _, _, _, _, _, _, _, _, _,
  21, 23, 20, 22, 22, 20, 23, 21, 23, 21, 20, 22, 20, 23, 21, 21, 22, 21, 20, 22,
  22, 21, 20, 22, 21, 20, 22, 21, 22, 21, 20, 22, 21, 20, 22, 21, 20, 22, 21, 20,
  22, 21, 20, 22, 20, 21, 22, 20, 22, 20, 21, 22, 20, 22, 21, 20, 22, _, _, 0,
  0, 0, 0, _,
];

const COLORS = {
  plot: '#C0C0C0',
  melt: '#FF44FF',
  electrode: '#77FF33',
  arc: '#0A0AF0',
  meltLine: '#FFFF22',
  electrodeLine: '#E8361C',
  arcLine: '#44E8FF',
};

const toPoints = (vals: Vals, step: number, shift = 0) =>
  vals.flatMap((v, i) => (v === null ? [] : [{ x: i * step + shift, y: v }]));
const toLine = (pairs: Pair[]) => pairs.map(([x, y]) => ({ x, y }));

const plotBg = {
  id: 'plotBg',
  beforeDraw(chart: Chart) {
    const { ctx, chartArea: a } = chart;
    ctx.save();
    ctx.fillStyle = COLORS.plot;
    ctx.fillRect(a.left, a.top, a.right - a.left, a.bottom - a.top);
    ctx.strokeStyle = '#8c8c8c';
    ctx.lineWidth = 1;
    ctx.strokeRect(a.left + 0.5, a.top + 0.5, a.right - a.left - 1, a.bottom - a.top);
    ctx.restore();
  },
};

interface PanelProps {
  top: number;
  height: number;
  title: string;
  axisWidth: number;
  titlePad: number;
  padTop: number;
  padBottom: number;
  showX: boolean;
  melt: Pair[];
  electrode: Pair[];
  arc: Pair[];
  meltPts: Vals[];
  electrodePts: Vals[];
  arcPts: Vals[];
}

const Panel = (p: PanelProps) => {
  const ref = useRef<HTMLCanvasElement | null>(null);

  useEffect(() => {
    if (!ref.current) return;
    const lineDs = (label: string, data: Pair[], color: string, width: number, order: number) => ({
      label,
      data: toLine(data),
      borderColor: color,
      borderWidth: width,
      pointRadius: 0,
      tension: 0,
      borderJoinStyle: 'round' as const,
      clip: 4,
      order,
    });
    // second sample set sits half a step between the first
    const dotDs = (label: string, sets: Vals[], step: number, color: string, style: string, r: number, order: number) => ({
      label,
      data: sets.flatMap((vals, k) => toPoints(vals, step, (k * step) / 2)),
      showLine: false,
      pointStyle: style,
      pointRadius: r,
      pointBackgroundColor: color,
      pointBorderWidth: 0,
      borderColor: color,
      clip: 4,
      order,
    });

    const chart = new Chart(ref.current, {
      type: 'line',
      data: {
        datasets: [
          lineDs('100 линейный фильтр ( мощность зоны дуги )', p.arc, COLORS.arcLine, 2.5, 1),
          lineDs('100 линейный фильтр (мощность электрода)', p.electrode, COLORS.electrodeLine, 3, 2),
          lineDs('100 линейный фильтр (мощность расплава)', p.melt, COLORS.meltLine, 2.5, 3),
          dotDs('мощность зоны дуги', p.arcPts, STEP_FINE, COLORS.arc, 'triangle', 3.6, 4),
          dotDs('мощность электрода', p.electrodePts, STEP_COARSE, COLORS.electrode, 'circle', 2.7, 5),
          dotDs('мощность расплава', p.meltPts, STEP_FINE, COLORS.melt, 'rect', 3.2, 6),
          {
            label: 'base',
            data: [{ x: 0, y: 0.15 }, { x: X_MAX, y: 0.15 }],
            borderColor: '#0000FF',
            borderWidth: 2,
            pointRadius: 0,
            clip: false,
            order: 7,
          },
          {
            label: 'zero',
            data: [{ x: 0, y: -0.55 }, { x: X_MAX, y: -0.55 }],
            borderColor: '#000000',
            borderWidth: 6,
            borderCapStyle: 'butt' as const,
            pointRadius: 0,
            clip: false,
            order: 8,
          },
        ],
      },
      options: {
        responsive: false,
        animation: false,
        events: [],
        layout: { padding: { top: p.padTop, bottom: p.padBottom, right: 5, left: 0 } },
        plugins: { legend: { display: false }, tooltip: { enabled: false } },
        scales: {
          x: {
            type: 'linear',
            min: 0,
            max: X_MAX,
            display: p.showX,
            grid: { display: false },
            border: { display: false },
            afterBuildTicks: (s: any) => {
              s.ticks = xLabels.map((lab, i) => ({ value: i * TICK_STEP, label: lab }));
            },
            afterFit: (s: any) => {
              if (p.showX) s.height = 58;
            },
            ticks: {
              autoSkip: false,
              minRotation: 90,
              maxRotation: 90,
              padding: 12,
              color: '#333',
              font: { family: FONT, size: 12 },
              callback: (_v: any, i: number) => xLabels[i],
            },
            title: {
              display: true,
              text: 'W, МВт*час электро-энергия плавки',
              color: '#222',
              font: { family: FONT, size: 14, weight: 'bold' },
              padding: 0,
            },
          },
          y: {
            min: 0,
            max: 35,
            afterFit: (s: any) => {
              s.width = p.axisWidth;
            },
            ticks: {
              stepSize: 5,
              padding: 4,
              color: '#333',
              font: { family: FONT, size: 13.5 },
            },
            grid: { drawOnChartArea: false, tickLength: 6, tickColor: '#555' },
            border: { display: false },
            title: {
              display: true,
              text: p.title,
              color: '#111',
              font: { family: FONT, size: 14, weight: 'bold' },
              padding: { top: p.titlePad, bottom: 0 },
            },
          },
        },
      },
      plugins: [plotBg],
    } as any);

    return () => chart.destroy();
  }, [p]);

  return (
    <canvas
      ref={ref}
      width={1012}
      height={p.height}
      style={{ position: 'absolute', left: 6, top: p.top, width: 1012, height: p.height }}
    />
  );
};

const boxStyle = (top: number, height: number): React.CSSProperties => ({
  position: 'absolute',
  left: 5,
  top,
  width: 1015,
  height,
  boxSizing: 'border-box',
  border: '1px solid #555',
  background: '#fff',
});

const legendText: React.CSSProperties = {
  position: 'absolute',
  fontFamily: FONT,
  fontWeight: 'bold',
  fontSize: 13,
  lineHeight: '16px',
  color: '#000',
  whiteSpace: 'nowrap',
};

const pointLegend = [
  { text: 'мощность расплава', y: 11, marker: 'rect' },
  { text: 'мощность электрода', y: 29, marker: 'dot' },
  { text: 'мощность зоны дуги', y: 47, marker: 'tri' },
];
const lineLegend = [
  { text: '100 линейный фильтр (мощность расплава)', y: 13, color: COLORS.meltLine },
  { text: '100 линейный фильтр (мощность электрода)', y: 35, color: COLORS.electrodeLine },
  { text: '100 линейный фильтр ( мощность зоны дуги )', y: 58, color: COLORS.arcLine },
];

const P1 = {
  melt: melt1, electrode: electrode1, arc: arc1,
  meltPts: [meltPts1, meltPts1b], electrodePts: [electrodePts1, electrodePts1b], arcPts: [arcPts1, arcPts1b],
};
const P2 = {
  melt: melt2, electrode: electrode2, arc: arc2,
  meltPts: [meltPts2, meltPts2b], electrodePts: [electrodePts2, electrodePts2b], arcPts: [arcPts2, arcPts2b],
};
const P3 = {
  melt: melt3, electrode: electrode3, arc: arc3,
  meltPts: [meltPts3, meltPts3b], electrodePts: [electrodePts3, electrodePts3b], arcPts: [arcPts3, arcPts3b],
};

const panels: PanelProps[] = [
  { top: 6, height: 188, title: 'Р, эл-да 1, МВт', axisWidth: 62, titlePad: 16, padTop: 13, padBottom: 4, showX: false, ...P1 },
  { top: 195, height: 202, title: 'Р, эл-да 2, МВт', axisWidth: 67, titlePad: 18, padTop: 17, padBottom: 5, showX: false, ...P2 },
  { top: 398, height: 271, title: 'Р, эл-да 3, МВт', axisWidth: 67, titlePad: 18, padTop: 17, padBottom: 0, showX: true, ...P3 },
];

export default function App() {
  return (
    <div style={{ position: 'absolute', left: 0, top: 0, width: 1024, height: 672, background: '#fff', overflow: 'hidden' }}>
      <div style={boxStyle(5, 190)} />
      <div style={boxStyle(194, 204)} />
      <div style={boxStyle(397, 273)} />
      {panels.map((p, i) => (
        <Panel key={i} {...p} />
      ))}

      <div
        style={{
          position: 'absolute', left: 835, top: 5, width: 185, height: 57,
          boxSizing: 'border-box', background: COLORS.plot, border: '1px solid #222',
        }}
      >
        {pointLegend.map((e) => (
          <div key={e.text}>
            {e.marker === 'rect' && (
              <span style={{ position: 'absolute', left: 16, top: e.y - 2, width: 4, height: 4, background: COLORS.melt }} />
            )}
            {e.marker === 'dot' && (
              <span style={{ position: 'absolute', left: 16, top: e.y - 2, width: 4, height: 4, borderRadius: 2, background: COLORS.electrode }} />
            )}
            {e.marker === 'tri' && (
              <span
                style={{
                  position: 'absolute', left: 19, top: e.y - 3, width: 0, height: 0,
                  borderLeft: '3px solid transparent', borderRight: '3px solid transparent',
                  borderBottom: `5px solid ${COLORS.arc}`,
                }}
              />
            )}
            <span style={{ ...legendText, left: e.marker === 'tri' ? 31 : 26, top: e.y - 8, letterSpacing: 0.5 }}>{e.text}</span>
          </div>
        ))}
      </div>

      <div
        style={{
          position: 'absolute', left: 666, top: 199, width: 347, height: 71,
          boxSizing: 'border-box', background: COLORS.plot, border: '1px solid #222',
        }}
      >
        {lineLegend.map((e) => (
          <div key={e.text}>
            <span style={{ position: 'absolute', left: 20, top: e.y - 1.5, width: 24, height: 3, background: e.color }} />
            <span style={{ ...legendText, left: 47, top: e.y - 8 }}>{e.text}</span>
          </div>
        ))}
      </div>
    </div>
  );
}
